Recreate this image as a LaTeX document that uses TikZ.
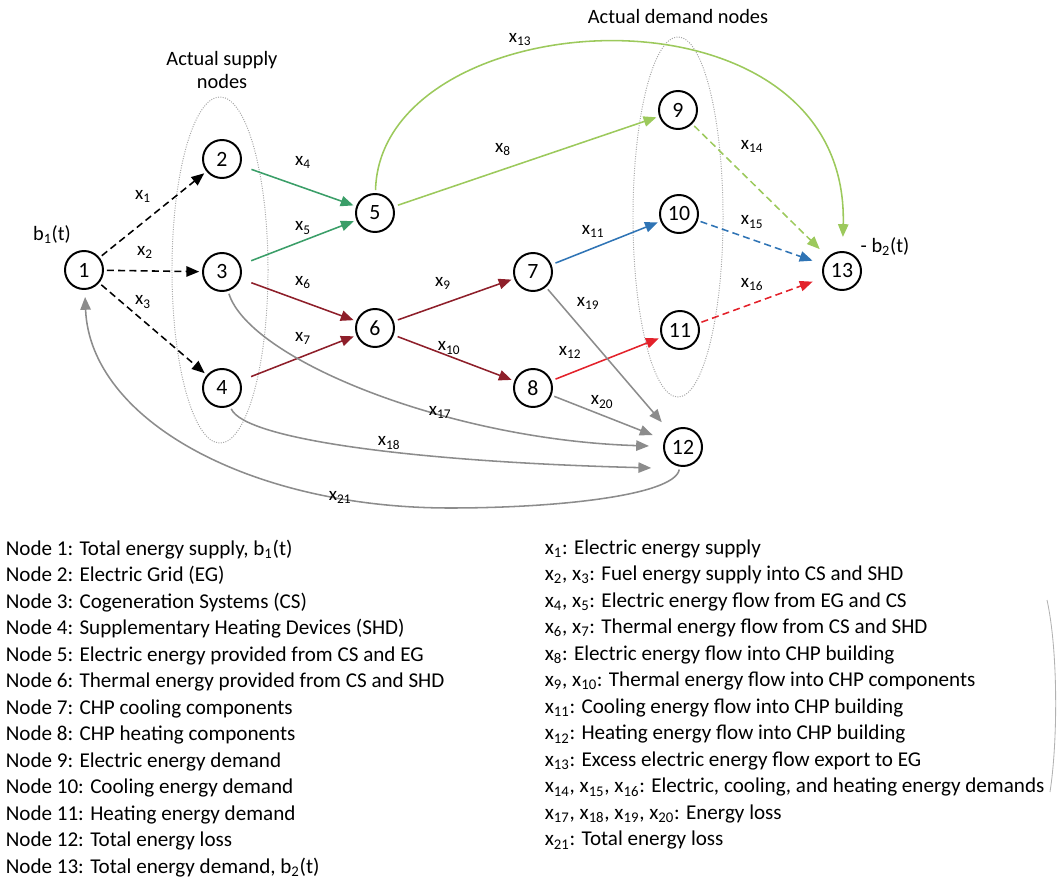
\documentclass[tikz,border=0pt]{standalone}
\usepackage{fontspec}
\setmainfont{Carlito}
\usetikzlibrary{arrows.meta, positioning, shapes.geometric}
\definecolor{cgreen}{HTML}{3A9E68}
\definecolor{clime}{HTML}{9CC95C}
\definecolor{cdred}{HTML}{8E1F2A}
\definecolor{cred}{HTML}{E3222B}
\definecolor{cblue}{HTML}{2F74B5}
\definecolor{cgrey}{HTML}{8C8C8C}
\tikzset{
  every picture/.style={line width=1.1pt},
  nd/.style={circle, draw=black, line width=1.4pt, minimum size=0.95cm, inner sep=0pt, font=\fontsize{15.5}{17}\selectfont},
  flow/.style={-{Triangle[length=3.2mm, width=2.6mm]}, draw=#1, shorten <=2pt, shorten >=2pt},
  flow/.default=black,
  dashflow/.style={dash pattern=on 5pt off 3pt},
  lab/.style={font=\fontsize{13.5}{15}\selectfont, inner sep=1pt},
  head/.style={font=\fontsize{14.5}{17}\selectfont, align=center, inner sep=1pt},
  grp/.style={ellipse, draw=black!35, densely dotted, line width=0.7pt, inner sep=0pt},
  legend/.style={font=\fontsize{15}{18.85}\selectfont, align=left, anchor=north west, inner sep=0pt},
}

\begin{document}
\begin{tikzpicture}[x=0.025cm, y=-0.025cm]
  \useasboundingbox (0,0) rectangle (1059,878);
  % groups of supply and demand nodes
  \node[grp, minimum width=2.4cm, minimum height=8.65cm] (sup) at (220,270) {};
  \node[grp, minimum width=2.25cm, minimum height=9cm] (dem) at (678,217) {};
  \node[head] (tsup) at (222,70) {Actual supply\\ nodes};
  \node[head] (tdem) at (678,17) {Actual demand nodes};
  % nodes
  \foreach \i/\px/\py in {1/84/270, 2/222/159, 3/222/272, 4/222/388, 5/375/213, 6/375/328, 7/533/272,
      8/533/388, 9/678/110, 10/679/214, 11/680/330, 12/683/447, 13/842/271}
    \node[nd] (n\i) at (\px,\py) {\i};
  \node[head] (b1) at (52,235) {b\textsubscript{1}(t)};
  \node[head] (b2) at (885,247) {- b\textsubscript{2}(t)};
  \coordinate (e18) at (654,468);
  % supply
  \draw[flow, dashflow] (n1) -- (n2);
  \draw[flow, dashflow] (n1) -- (n3);
  \draw[flow, dashflow] (n1) -- (n4);
  % electric and thermal
  \draw[flow=cgreen, shorten <=8pt] (n2) -- (n5);
  \draw[flow=cgreen, shorten <=8pt] (n3) -- (n5);
  \draw[flow=cdred, shorten <=8pt] (n3) -- (n6);
  \draw[flow=cdred, shorten <=8pt] (n4) -- (n6);
  \draw[flow=cdred, shorten <=3pt] (n6) -- (n7);
  \draw[flow=cdred, shorten <=3pt] (n6) -- (n8);
  \draw[flow=clime, shorten <=3pt] (n5) -- (n9);
  \draw[flow=clime, shorten >=10pt] (n5) .. controls (380,0) and (850,-30) .. (n13);
  \draw[flow=cblue, shorten <=3pt] (n7) -- (n10);
  \draw[flow=cred, shorten <=3pt] (n8) -- (n11);
  % demand
  \draw[flow=clime, dashflow, shorten >=8pt] (n9) -- (n13);
  \draw[flow=cblue, dashflow, shorten >=8pt] (n10) -- (n13);
  \draw[flow=cred, dashflow, shorten >=8pt] (n11) -- (n13);
  % losses
  \draw[flow=cgrey, shorten >=9pt] (n7) -- (n12);
  \draw[flow=cgrey, shorten >=9pt] (n8) -- (n12);
  \draw[flow=cgrey, shorten >=10pt] (n3) .. controls (250,360) and (450,440) .. (n12);
  \draw[flow=cgrey] (n4) .. controls (245,440) and (420,462) .. (e18);
  \draw[flow=cgrey, shorten >=5pt] (n12) .. controls (675,495) and (560,508) .. (450,508)
    .. controls (250,508) and (90,420) .. (n1);
  % flow labels
  \foreach \i/\px/\py in {1/143/196, 2/145/252, 3/143/302, 4/303/162, 5/303/228, 6/303/283, 7/303/338,
      8/503/150, 9/443/283, 10/449/348, 11/593/231, 12/570/352, 13/520/40, 14/752/146, 15/752/222,
      16/752/285, 17/440/412, 18/389/443, 19/588/303, 20/602/402, 21/340/497}
    \node[lab] (lx\i) at (\px,\py) {x\textsubscript{\i}};
  % legend
  \node[legend] (leg1) at (5,539) {Node 1: Total energy supply, b\textsubscript{1}(t)\\
    Node 2: Electric Grid (EG)\\
    Node 3: Cogeneration Systems (CS)\\
    Node 4: Supplementary Heating Devices (SHD)\\
    Node 5: Electric energy provided from CS and EG\\
    Node 6: Thermal energy provided from CS and SHD\\
    Node 7: CHP cooling components\\
    Node 8: CHP heating components\\
    Node 9: Electric energy demand\\
    Node 10: Cooling energy demand\\
    Node 11: Heating energy demand\\
    Node 12: Total energy loss\\
    Node 13: Total energy demand, b\textsubscript{2}(t)};
  \node[legend] (leg2) at (544,539) {x\textsubscript{1}: Electric energy supply\\
    x\textsubscript{2}, x\textsubscript{3}: Fuel energy supply into CS and SHD\\
    x\textsubscript{4}, x\textsubscript{5}: Electric energy flow from EG and CS\\
    x\textsubscript{6}, x\textsubscript{7}: Thermal energy flow from CS and SHD\\
    x\textsubscript{8}: Electric energy flow into CHP building\\
    x\textsubscript{9}, x\textsubscript{10}: Thermal energy flow into CHP components\\
    x\textsubscript{11}: Cooling energy flow into CHP building\\
    x\textsubscript{12}: Heating energy flow into CHP building\\
    x\textsubscript{13}: Excess electric energy flow export to EG\\
    x\textsubscript{14}, x\textsubscript{15}, x\textsubscript{16}: Electric, cooling, and heating energy demands\\
    x\textsubscript{17}, x\textsubscript{18}, x\textsubscript{19}, x\textsubscript{20}: Energy loss\\
    x\textsubscript{21}: Total energy loss};
  \draw[black!30, line width=0.6pt] (1047,600) .. controls (1058,650) and (1058,740) .. (1050,792);
\end{tikzpicture}
\end{document}
